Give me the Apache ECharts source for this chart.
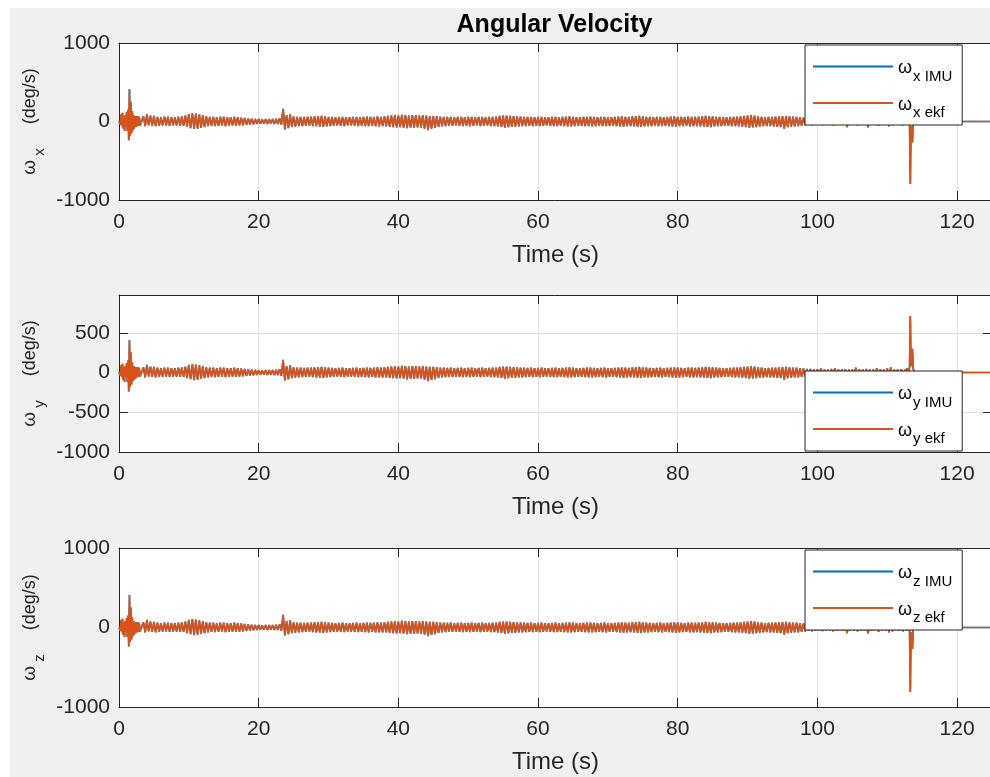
<!DOCTYPE html>
<html><head><meta charset="utf-8">
<script src="https://cdn.jsdelivr.net/npm/echarts@6/dist/echarts.min.js"></script>
<style>
html,body{margin:0;padding:0;background:#fff;}
#bg{position:absolute;left:10px;top:8px;width:980px;height:769px;background:#f0f0f0;}
#chart{position:absolute;left:0;top:0;width:990px;height:777px;}
</style></head><body>
<div id="bg"></div><div id="chart"></div>
<script>
// ---- data ----
const titleText = 'Angular Velocity';
const xTickValues = [0, 20, 40, 60, 80, 100, 120];
const yTicksXZ = [-1000, 0, 1000];
const yTicksY = [-1000, -500, 0, 500];

// start-up transient, 0 .. 3 s (0.1 s samples), same in all three axes
const startTimes = [0,0.1,0.2,0.3,0.4,0.5,0.6,0.7,0.8,0.9,1.0,1.1,1.2,1.3,1.4,1.5,1.6,1.7,1.8,1.9,2.0,2.1,2.2,2.3,2.4,2.5,2.6,2.7,2.8,2.9,3.0];
const startValues = [0,20,-40,90,-60,110,-90,60,-120,80,-50,120,-120,150,-240,410,-180,250,-150,130,-110,80,-90,70,-70,65,-60,70,-55,60,-50];

// flight noise 3.5 .. 112.5 s: upper peaks (at t) and lower troughs (at t + 0.25 s)
const midStart = 3.5, midStep = 0.5;
const midUpper = [
  65, 95, 75, 70, 60, 55, 60, 60, 55, 55,
  60, 65, 75, 95, 105, 100, 90, 80, 65, 60,
  60, 55, 60, 60, 55, 55, 60, 55, 50, 45,
  40, 35, 32, 30, 28, 30, 32, 30, 35, 40,
  160, 80, 90, 65, 60, 60, 58, 60, 62, 65,
  68, 70, 65, 60, 58, 55, 58, 60, 55, 55,
  58, 60, 55, 58, 62, 58, 60, 65, 60, 65,
  70, 75, 80, 75, 85, 80, 75, 80, 80, 75,
  80, 75, 70, 70, 65, 62, 60, 58, 60, 55,
  58, 60, 55, 58, 60, 55, 58, 60, 55, 58,
  60, 62, 70, 75, 75, 70, 68, 65, 62, 60,
  58, 60, 55, 58, 60, 55, 55, 58, 60, 55,
  58, 62, 65, 60, 55, 55, 58, 60, 62, 58,
  55, 58, 60, 55, 55, 58, 62, 65, 60, 58,
  65, 68, 70, 65, 60, 58, 55, 58, 60, 55,
  58, 62, 65, 60, 58, 55, 62, 60, 58, 62,
  65, 70, 68, 65, 60, 58, 55, 55, 58, 60,
  62, 65, 70, 75, 80, 75, 65, 60, 55, 58,
  60, 62, 65, 68, 70, 65, 62, 60, 55, 50,
  45, 45, 40, 42, 50, 38, 38, 45, 55, 38,
  40, 42, 38, 38, 60, 42, 38, 45, 42, 38,
  55, 42, 38, 50, 65, 38, 42, 42, 35
];
const midLower = [
  -60, -50, -55, -60, -55, -50, -50, -55, -50, -50,
  -55, -55, -70, -85, -95, -90, -80, -70, -60, -55,
  -58, -55, -50, -58, -55, -50, -55, -50, -48, -42,
  -38, -35, -30, -28, -28, -30, -28, -30, -32, -40,
  -100, -85, -70, -65, -60, -58, -55, -52, -58, -60,
  -65, -68, -62, -58, -55, -50, -55, -58, -50, -50,
  -55, -58, -55, -58, -60, -55, -60, -62, -60, -62,
  -68, -72, -75, -72, -78, -85, -78, -80, -75, -78,
  -90, -110, -92, -82, -68, -62, -58, -55, -55, -50,
  -55, -58, -55, -58, -55, -50, -58, -55, -50, -58,
  -58, -62, -68, -78, -72, -68, -65, -62, -60, -58,
  -55, -58, -55, -58, -55, -50, -55, -58, -58, -55,
  -58, -62, -62, -58, -55, -55, -58, -60, -62, -58,
  -55, -58, -60, -55, -55, -58, -62, -65, -60, -58,
  -62, -68, -68, -62, -60, -58, -55, -58, -60, -55,
  -58, -62, -65, -60, -58, -55, -62, -60, -58, -62,
  -65, -68, -70, -62, -60, -58, -55, -55, -58, -60,
  -62, -65, -72, -78, -75, -72, -65, -60, -58, -60,
  -62, -68, -72, -90, -72, -65, -62, -60, -55, -50,
  -42, -48, -40, -42, -45, -36, -40, -48, -42, -36,
  -42, -70, -36, -40, -48, -42, -36, -75, -42, -36,
  -55, -42, -36, -60, -48, -36, -42, -48, -35
];

// landing impact and rest, 112.6 s .. end
const endTimes = [112.6,112.7,112.8,112.9,113.0,113.1,113.2,113.3,113.4,113.5,113.6,113.7,113.8,113.9,114.0,114.1,115,125];
const endX = [-35,30,-40,25,-30,35,-40,-795,-60,-150,-267,-40,-10,5,-5,0,0,0];
const endY = [40,-20,55,-15,50,-10,70,709,80,150,300,60,20,5,5,0,0,0];
const endZ = [-35,30,-40,25,-30,35,-40,-810,-60,-150,-270,-40,-10,5,-5,0,0,0];

const axisKeys = ['x', 'y', 'z'];
const endByAxis = {x: endX, y: endY, z: endZ};

// ---- build ----
const FONT = 'Liberation Sans, Arial, Helvetica, sans-serif';
const INK = '#262626';
const GRIDC = '#dfdfdf';
const IMU_C = '#0072BD';
const EKF_C = '#D95319';

function pairs(times, vals) { const n = Math.min(times.length, vals.length); const o = []; for (let i = 0; i < n; i++) o.push([times[i], vals[i]]); return o; }
function midPairs() {
  const o = [];
  const n = Math.min(midUpper.length, midLower.length);
  for (let i = 0; i < n; i++) {
    const t = midStart + i * midStep;
    o.push([t, midUpper[i]]);
    o.push([t + midStep / 2, midLower[i]]);
  }
  return o;
}
function seriesData(endVals) { return pairs(startTimes, startValues).concat(midPairs(), pairs(endTimes, endVals)); }

const grids = [
  {left: 119, top: 43, width: 873, height: 157},
  {left: 119, top: 295, width: 873, height: 157},
  {left: 119, top: 548, width: 873, height: 159}
].map(g => Object.assign(g, {show: true, backgroundColor: '#fff', borderWidth: 0, containLabel: false, outerBoundsMode: 'none'}));

const yRanges = [
  {min: -1000, max: 1000, interval: 1000},
  {min: -1000, max: 975, interval: 500},
  {min: -1000, max: 1000, interval: 1000}
];

const plainNum = v => String(v);
const xAxes = [], yAxes = [];
for (let g = 0; g < 3; g++) {
  xAxes.push({
    type: 'value', gridIndex: g, position: 'bottom', min: 0, max: 125, interval: 20,
    axisLine: {show: true, onZero: false, lineStyle: {color: INK, width: 1}},
    axisTick: {show: true, inside: true, length: 9, lineStyle: {color: INK}},
    axisLabel: {show: true, fontSize: 21, color: INK, fontFamily: FONT, margin: 12, showMaxLabel: false, showMinLabel: true, formatter: plainNum},
    splitLine: {show: true, lineStyle: {color: GRIDC, width: 1}},
    name: 'Time (s)', nameLocation: 'middle', nameGap: 43, nameMoveOverlap: false,
    nameTextStyle: {fontSize: 24, color: INK, fontFamily: FONT}
  });
  const k = axisKeys[g];
  yAxes.push(Object.assign({
    type: 'value', gridIndex: g, position: 'left',
    axisLine: {show: true, onZero: false, lineStyle: {color: INK, width: 1}},
    axisTick: {show: true, inside: true, length: 9, lineStyle: {color: INK}},
    axisLabel: {show: true, fontSize: 21, color: INK, fontFamily: FONT, margin: 9, showMaxLabel: g !== 1, showMinLabel: true, formatter: plainNum},
    splitLine: {show: true, lineStyle: {color: GRIDC, width: 1}},
    name: '{w|ω}{s|' + k + '}{d|(deg/s)}', nameLocation: 'middle', nameRotate: 90, nameGap: 72, nameMoveOverlap: false,
    nameTextStyle: {color: INK, fontFamily: FONT, rich: {
      w: {fontSize: 19, color: INK, fontFamily: FONT, verticalAlign: 'bottom', padding: [0, 0, 8, 0]},
      s: {fontSize: 15, color: INK, fontFamily: FONT, verticalAlign: 'bottom', padding: [0, 0, 0, 4]},
      d: {fontSize: 18, color: INK, fontFamily: FONT, verticalAlign: 'bottom', padding: [0, 0, 8, 24]}
    }}
  }, yRanges[g]));
}
for (let g = 0; g < 3; g++) {
  xAxes.push({
    type: 'value', gridIndex: g, position: 'top', min: 0, max: 125, interval: 20,
    axisLine: {show: true, onZero: false, lineStyle: {color: INK, width: 1}},
    axisTick: {show: true, inside: true, length: 9, lineStyle: {color: INK}},
    axisLabel: {show: false}, splitLine: {show: false}
  });
  yAxes.push(Object.assign({
    type: 'value', gridIndex: g, position: 'right',
    axisLine: {show: true, onZero: false, lineStyle: {color: INK, width: 1}},
    axisTick: {show: true, inside: true, length: 9, lineStyle: {color: INK}},
    axisLabel: {show: false}, splitLine: {show: false}
  }, yRanges[g]));
}

const series = [];
const legends = [];
const legendTops = [45, 371, 550];
for (let g = 0; g < 3; g++) {
  const k = axisKeys[g];
  const data = seriesData(endByAxis[k]);
  series.push({type: 'line', name: k + ' IMU', xAxisIndex: g, yAxisIndex: g, data: data, symbol: 'none', showSymbol: false,
    color: IMU_C, lineStyle: {color: IMU_C, width: 1.7}, animation: false, z: 2});
  series.push({type: 'line', name: k + ' ekf', xAxisIndex: g, yAxisIndex: g, data: data, symbol: 'none', showSymbol: false,
    color: EKF_C, lineStyle: {color: EKF_C, width: 1.7}, animation: false, z: 3});
  legends.push({
    data: [k + ' IMU', k + ' ekf'], orient: 'vertical', left: 805, top: legendTops[g],
    icon: 'rect', itemWidth: 80, itemHeight: 2, itemGap: 12, selectedMode: false,
    padding: [14.5, 10, 4.5, 8], backgroundColor: '#fff', borderColor: INK, borderWidth: 1, borderRadius: 0,
    formatter: name => '{w|ω}{s|' + name + '}',
    textStyle: {color: '#000', fontFamily: FONT, rich: {
      w: {fontSize: 18, color: '#000', fontFamily: FONT, verticalAlign: 'top', padding: [10.5, 0, 0, 0]},
      s: {fontSize: 15, color: '#000', fontFamily: FONT, verticalAlign: 'top', padding: [20, 0, 0, 1]}
    }}
  });
}

const chart = echarts.init(document.getElementById('chart'), null, {renderer: 'canvas'});
chart.setOption({
  backgroundColor: 'transparent',
  animation: false,
  title: {text: titleText, left: 554.5, top: 13, textAlign: 'center', padding: 0,
    textStyle: {fontSize: 25, fontWeight: 'bold', color: '#000', fontFamily: FONT}},
  grid: grids,
  xAxis: xAxes,
  yAxis: yAxes,
  legend: legends,
  series: series
});
</script>
</body></html>
